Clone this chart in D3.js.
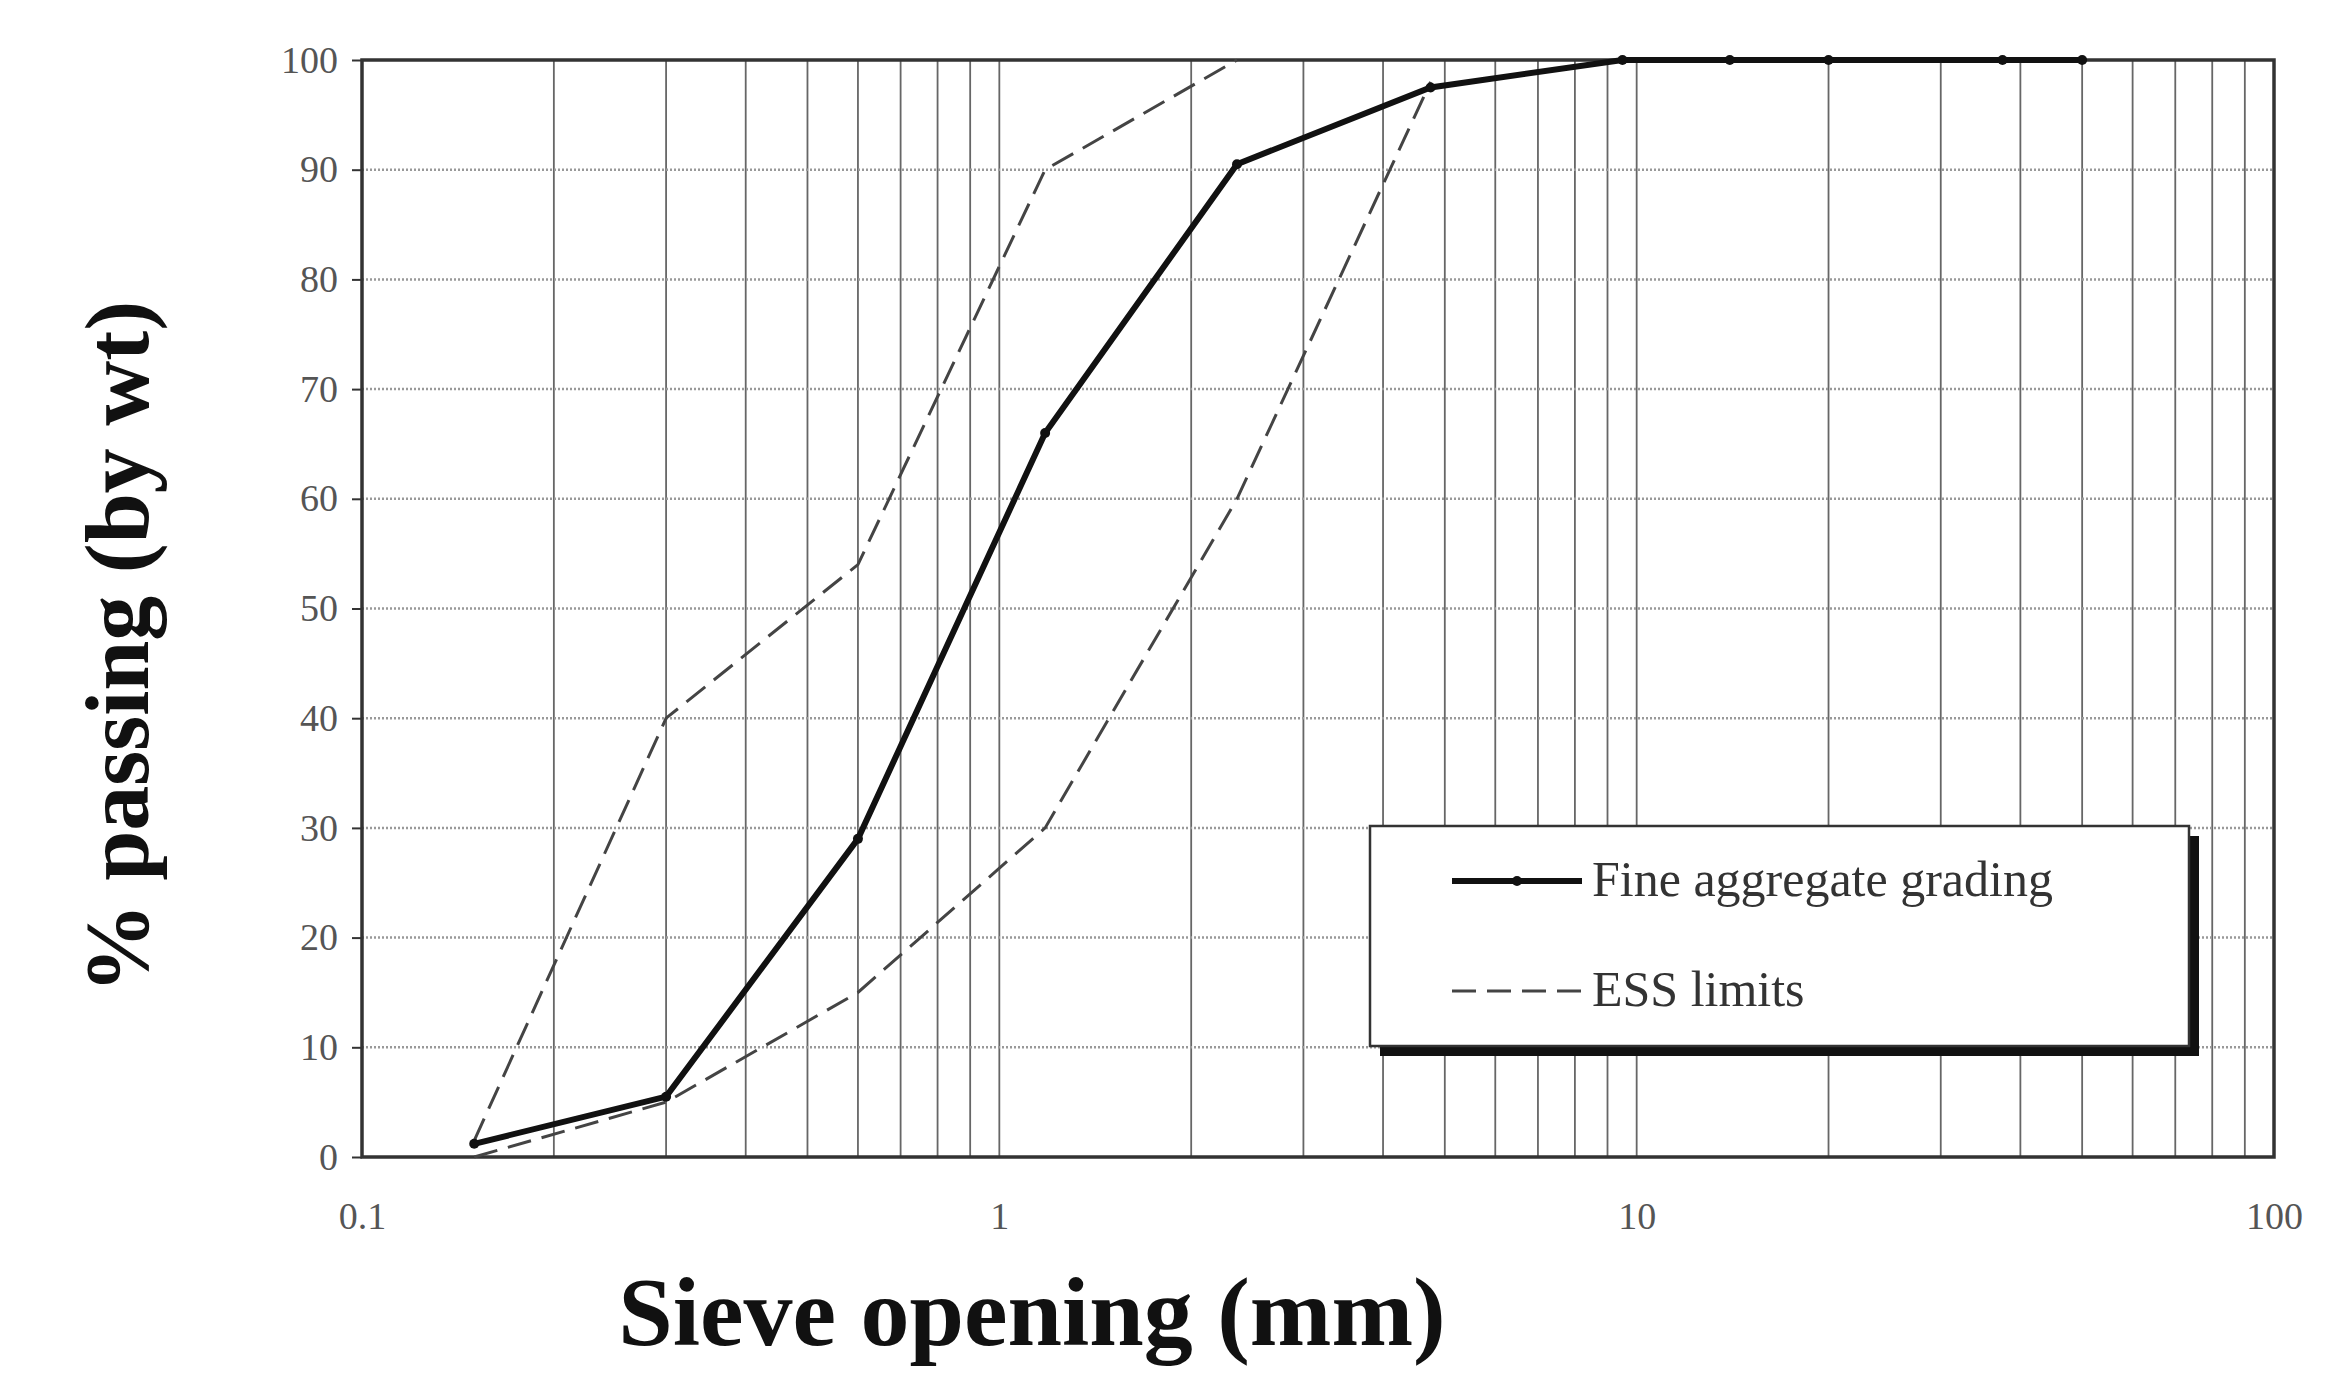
<!DOCTYPE html>
<html><head><meta charset="utf-8">
<script src="https://cdn.jsdelivr.net/npm/d3@7"></script>
<style>body{margin:0;background:#fff}</style>
</head><body>
<svg id="c" width="2331" height="1378"></svg>
<script>
const sieves = [0.15, 0.3, 0.6, 1.18, 2.36, 4.75, 9.5, 14, 20, 37.5, 50];
const finePassing = [1.2, 5.5, 29, 66, 90.5, 97.5, 100, 100, 100, 100, 100];
const upperSieves = [0.15, 0.3, 0.6, 1.18, 2.36];
const upperLimit = [1.5, 40, 54, 90, 100];
const lowerSieves = [0.15, 0.3, 0.6, 1.18, 2.36, 4.75];
const lowerLimit = [0, 5, 15, 30, 60, 98];
const xTicks = [0.1, 1, 10, 100];
const yTicks = [0, 10, 20, 30, 40, 50, 60, 70, 80, 90, 100];

const svg = d3.select('#c');
const L = 362, R = 2274, T = 60, B = 1157;
const x = d3.scaleLog().domain([0.1, 100]).range([L, R]);
const y = d3.scaleLinear().domain([0, 100]).range([B, T]);
const serif = 'Liberation Serif, Times New Roman, serif';

// vertical grid at 1..9 of each decade
const minor = [];
[0.1, 1, 10].forEach(d => { for (let k = 2; k <= 9; k++) minor.push(d * k); });
svg.append('g').selectAll('line').data(minor.concat([1, 10])).join('line')
  .attr('x1', d => x(d)).attr('x2', d => x(d)).attr('y1', T).attr('y2', B)
  .attr('stroke', '#666').attr('stroke-width', 1.8);
svg.append('g').selectAll('line').data(yTicks.slice(1, -1)).join('line')
  .attr('x1', L).attr('x2', R).attr('y1', d => y(d)).attr('y2', d => y(d))
  .attr('stroke', '#999').attr('stroke-width', 2.5).attr('stroke-dasharray', '2,2');
svg.append('rect').attr('x', L).attr('y', T).attr('width', R - L).attr('height', B - T)
  .attr('fill', 'none').attr('stroke', '#333').attr('stroke-width', 3.5);

svg.append('g').attr('transform', `translate(0,${B})`)
  .call(d3.axisBottom(x).tickValues(xTicks).tickFormat(d3.format('')).tickSize(0).tickPadding(45))
  .call(g => g.select('.domain').remove())
  .selectAll('text').attr('font-family', serif).attr('font-size', 38).attr('fill', '#555');
svg.append('g').attr('transform', `translate(${L},0)`)
  .call(d3.axisLeft(y).tickValues(yTicks).tickSize(10).tickPadding(14))
  .call(g => g.select('.domain').remove())
  .call(g => g.selectAll('line').attr('stroke', '#333').attr('stroke-width', 2))
  .selectAll('text').attr('font-family', serif).attr('font-size', 38).attr('fill', '#555');

svg.append('text').attr('x', 1032).attr('y', 1345).attr('text-anchor', 'middle')
  .attr('font-family', serif).attr('font-weight', 'bold').attr('font-size', 98).attr('fill', '#111')
  .text('Sieve opening (mm)');
svg.append('text').attr('transform', 'translate(148,647) rotate(-90)')
  .attr('text-anchor', 'middle').attr('font-family', serif).attr('font-weight', 'bold')
  .attr('font-size', 90).attr('fill', '#111').text('% passing (by wt)');

const line = d3.line().x(d => x(d[0])).y(d => y(d[1]));
const dashed = (xs, ys) => svg.append('path').datum(xs.map((s, i) => [s, ys[i]])).attr('d', line)
  .attr('fill', 'none').attr('stroke', '#444').attr('stroke-width', 3).attr('stroke-dasharray', '24,11');
dashed(upperSieves, upperLimit);
dashed(lowerSieves, lowerLimit);
const fine = sieves.map((s, i) => [s, finePassing[i]]);
svg.append('path').datum(fine).attr('d', line).attr('fill', 'none').attr('stroke', '#111').attr('stroke-width', 6);
svg.append('g').selectAll('circle').data(fine).join('circle')
  .attr('cx', d => x(d[0])).attr('cy', d => y(d[1])).attr('r', 5).attr('fill', '#111');

// legend
const lg = svg.append('g').attr('transform', 'translate(1370,826)');
lg.append('rect').attr('x', 10).attr('y', 10).attr('width', 819).attr('height', 220).attr('fill', '#111');
lg.append('rect').attr('width', 819).attr('height', 220).attr('fill', '#fff').attr('stroke', '#333').attr('stroke-width', 2.5);
lg.append('line').attr('x1', 82).attr('x2', 212).attr('y1', 55).attr('y2', 55).attr('stroke', '#111').attr('stroke-width', 6);
lg.append('circle').attr('cx', 147).attr('cy', 55).attr('r', 5).attr('fill', '#111');
lg.append('line').attr('x1', 82).attr('x2', 212).attr('y1', 165).attr('y2', 165).attr('stroke', '#444').attr('stroke-width', 3).attr('stroke-dasharray', '24,11');
lg.append('text').attr('x', 222).attr('y', 70).attr('font-family', serif).attr('font-size', 50).attr('fill', '#333').text('Fine aggregate grading');
lg.append('text').attr('x', 222).attr('y', 180).attr('font-family', serif).attr('font-size', 50).attr('fill', '#333').text('ESS limits');
</script>
</body></html>
